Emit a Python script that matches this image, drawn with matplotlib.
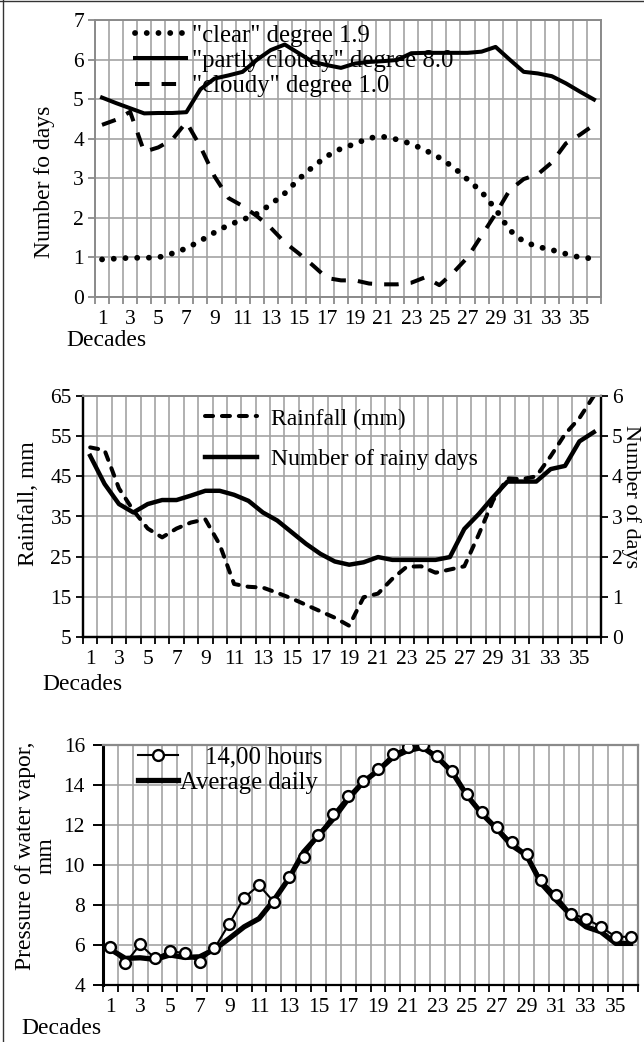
import matplotlib
matplotlib.use('Agg')
import matplotlib.pyplot as plt
import numpy as np
from matplotlib.lines import Line2D

plt.rcParams['font.family'] = ['Liberation Serif', 'DejaVu Serif']

decades = list(range(1, 37))
odd_decades = [d for d in decades if d % 2 == 1]
odd_labels = [str(d) for d in odd_decades]

# Panel 1: number of days by cloudiness
clear_days = [0.95, 0.97, 0.99, 0.99, 1.0, 1.1, 1.23, 1.42, 1.63, 1.82, 1.95, 2.1,
              2.34, 2.62, 2.98, 3.29, 3.56, 3.75, 3.87, 4.02, 4.05, 3.98, 3.87, 3.71,
              3.52, 3.28, 2.97, 2.66, 2.22, 1.69, 1.4, 1.27, 1.19, 1.09, 1.0, 0.97]
partly_cloudy_days = [5.04, 4.9, 4.77, 4.64, 4.65, 4.65, 4.67, 5.25, 5.52, 5.6, 5.69, 5.99,
                      6.24, 6.38, 6.16, 5.94, 5.86, 5.79, 5.9, 5.94, 5.96, 5.99, 6.16, 6.17,
                      6.17, 6.17, 6.17, 6.2, 6.32, 6.0, 5.69, 5.65, 5.58, 5.4, 5.19, 4.99]
cloudy_days = [4.35, 4.48, 4.68, 3.67, 3.78, 3.98, 4.42, 3.8, 3.05, 2.5, 2.3, 2.05,
               1.75, 1.38, 1.1, 0.8, 0.48, 0.42, 0.42, 0.34, 0.32, 0.32, 0.36, 0.5,
               0.3, 0.62, 1.0, 1.55, 2.1, 2.7, 2.98, 3.1, 3.4, 3.88, 4.1, 4.35]

# Panel 2: rainfall and rainy days
rainfall_mm = [52.2, 51.5, 42, 36.5, 32, 29.8, 32, 33.5, 34.3, 28, 18.2, 17.5,
               17.3, 16, 14.6, 13, 11.4, 9.8, 7.8, 14.9, 15.8, 19.5, 22.5, 22.6,
               21, 21.8, 22.6, 30.5, 39, 44.5, 44.3, 45, 50, 55.5, 59.5, 65]
rainy_days = [4.51, 3.81, 3.31, 3.10, 3.31, 3.41, 3.41, 3.52, 3.64, 3.64, 3.54, 3.39,
              3.10, 2.90, 2.61, 2.32, 2.07, 1.88, 1.80, 1.86, 1.99, 1.92, 1.92, 1.92,
              1.92, 1.99, 2.69, 3.06, 3.48, 3.87, 3.87, 3.87, 4.18, 4.26, 4.87, 5.1]

# Panel 3: water vapour pressure
vapor_14h = [5.91, 5.08, 6.03, 5.33, 5.71, 5.58, 5.16, 5.83, 7.07, 8.37, 8.99, 8.15,
             9.4, 10.4, 11.48, 12.56, 13.47, 14.22, 14.8, 15.55, 15.88, 16.0, 15.47, 14.72,
             13.56, 12.64, 11.89, 11.15, 10.56, 9.24, 8.49, 7.57, 7.32, 6.91, 6.41, 6.41]
vapor_daily = [5.78, 5.33, 5.36, 5.28, 5.5, 5.38, 5.41, 5.78, 6.33, 6.91, 7.32, 8.24,
               9.32, 10.65, 11.48, 12.31, 13.31, 14.14, 14.72, 15.38, 15.72, 15.88, 15.38, 14.64,
               13.47, 12.56, 11.81, 10.98, 10.48, 9.07, 8.24, 7.49, 6.91, 6.66, 6.08, 6.08]

W, H = 644, 1042
fig = plt.figure(figsize=(W / 100, H / 100), dpi=100)

GRID = '#a3a3a3'
GRAY = '#8a8a8a'
TICK_FS = 15.5
LAB_FS = 17


def box(x0, y0, x1, y1):
    return [x0 / W, 1 - y1 / H, (x1 - x0) / W, (y1 - y0) / H]


def setup_x(ax, tick_color):
    ax.set_xlim(0.5, 36.5)
    bounds = [d - 0.5 for d in decades] + [decades[-1] + 0.5]
    ax.set_xticks(bounds)
    ax.set_xticklabels([])
    ax.set_xticks(odd_decades, minor=True)
    ax.set_xticklabels(odd_labels, minor=True)
    ax.tick_params(axis='x', which='major', length=5, width=1.3, color=tick_color,
                   direction='out')
    ax.tick_params(axis='x', which='minor', length=0, pad=9, labelsize=TICK_FS)
    ax.grid(axis='x', which='major', color=GRID, lw=1.2)
    ax.grid(axis='y', which='major', color=GRID, lw=1.2)
    ax.set_axisbelow(True)


# ---------------- Panel 1 ----------------
ax1 = fig.add_axes(box(95, 20, 601, 297))
setup_x(ax1, GRAY)
ax1.set_ylim(0, 7)
ax1.set_yticks(range(0, 8))
ax1.tick_params(axis='y', length=5, width=1.3, color=GRAY, pad=3, labelsize=TICK_FS)
for s in ax1.spines.values():
    s.set_color(GRAY)
    s.set_linewidth(1.4)
l1, = ax1.plot(decades, clear_days, color='black', lw=4.2,
               linestyle=(0, (0.01, 2.0)), dash_capstyle='round',
               label='"clear" degree 1.9')
l2, = ax1.plot(decades, partly_cloudy_days, color='black', lw=2.9,
               solid_joinstyle='round', label='"partly cloudy" degree 8.0')
l3, = ax1.plot(decades, cloudy_days, color='black', lw=2.9,
               linestyle=(0, (3.6, 3.0)), label='"cloudy" degree 1.0')
ax1.legend(handles=[l1, l2, l3], loc='center left',
           bbox_to_anchor=(135 / W, 1 - 61 / H), bbox_transform=fig.transFigure,
           frameon=False, fontsize=17.8, borderpad=0, borderaxespad=0,
           handlelength=2.05, handletextpad=0.25, labelspacing=0.12)
fig.text(45 / W, 1 - 182 / H, 'Number fo days', rotation=90, ha='center',
         va='center', fontsize=LAB_FS)
fig.text(66 / W, 1 - 340 / H, 'Decades', ha='left', va='center', fontsize=LAB_FS)

# ---------------- Panel 2 ----------------
ax2 = fig.add_axes(box(83, 396, 601, 637))
setup_x(ax2, 'black')
ax2.set_ylim(5, 65)
ax2.set_yticks(range(5, 66, 10))
ax2.tick_params(axis='y', length=5, width=1.3, color='black', pad=3, labelsize=TICK_FS)
for side in ['left', 'bottom', 'right']:
    ax2.spines[side].set_color('black')
    ax2.spines[side].set_linewidth(1.6)
ax2.spines['top'].set_color(GRAY)
ax2.spines['top'].set_linewidth(1.4)
ax2r = ax2.twinx()
ax2r.set_ylim(0, 6)
ax2r.set_yticks(range(0, 7))
ax2r.tick_params(axis='y', length=5, width=1.3, color='black', pad=3, labelsize=TICK_FS)
for side in ['left', 'bottom', 'right']:
    ax2r.spines[side].set_color('black')
    ax2r.spines[side].set_linewidth(1.6)
ax2r.spines['top'].set_color(GRAY)
ax2r.spines['top'].set_linewidth(1.4)
m1, = ax2.plot(decades, rainfall_mm, color='black', lw=2.9,
               linestyle=(0, (2.0, 2.2)), dash_capstyle='round',
               label='Rainfall (mm)')
m2, = ax2r.plot(decades, rainy_days, color='black', lw=3.2,
                solid_joinstyle='round', label='Number of rainy days')
ax2r.legend(handles=[m1, m2], loc='center left',
            bbox_to_anchor=(205 / W, 1 - 439 / H), bbox_transform=fig.transFigure,
            frameon=False, fontsize=17, borderpad=0, borderaxespad=0,
            handlelength=2.2, handletextpad=0.6, labelspacing=0.8)
fig.text(28 / W, 1 - 504 / H, 'Rainfall, mm', rotation=90, ha='center',
         va='center', fontsize=LAB_FS)
fig.text(631 / W, 1 - 497 / H, 'Number of days', rotation=270, ha='center',
         va='center', fontsize=16)
fig.text(42 / W, 1 - 684 / H, 'Decades', ha='left', va='center', fontsize=LAB_FS)

# ---------------- Panel 3 ----------------
ax3 = fig.add_axes(box(103, 745, 638, 985))
setup_x(ax3, 'black')
ax3.set_ylim(4, 16)
ax3.set_yticks(range(4, 17, 2))
ax3.tick_params(axis='y', length=7, width=1.4, color='black', pad=6, labelsize=TICK_FS)
ax3.spines['left'].set_color('black')
ax3.spines['left'].set_linewidth(2.2)
ax3.spines['bottom'].set_color('black')
ax3.spines['bottom'].set_linewidth(1.6)
for side in ['top', 'right']:
    ax3.spines[side].set_color(GRAY)
    ax3.spines[side].set_linewidth(1.6)
n2, = ax3.plot(decades, vapor_daily, color='black', lw=3.8,
               solid_joinstyle='round', label='Average daily', zorder=3)
n1, = ax3.plot(decades, vapor_14h, color='black', lw=1.5, marker='o',
               markersize=7.8, markerfacecolor='white', markeredgecolor='black',
               markeredgewidth=1.7, label='    14,00 hours', zorder=4)
ax3.legend(handles=[n1, n2], loc='center left',
           bbox_to_anchor=(138 / W, 1 - 770 / H), bbox_transform=fig.transFigure,
           frameon=False, fontsize=17.8, borderpad=0, borderaxespad=0,
           handlelength=1.6, handletextpad=0.1, labelspacing=0.1, numpoints=1)
fig.text(36 / W, 1 - 856 / H, 'Pressure of water vapor,\nmm', rotation=90,
         ha='center', va='center', fontsize=LAB_FS, multialignment='center',
         linespacing=0.95)
fig.text(21 / W, 1 - 1028 / H, 'Decades', ha='left', va='center', fontsize=LAB_FS)

# Outer frame lines (left and top edges)
fig.add_artist(Line2D([2.5 / W, 2.5 / W], [0, 1], transform=fig.transFigure,
                      color='#333333', lw=1.0))
fig.add_artist(Line2D([0, 1], [1 - 1.0 / H, 1 - 1.0 / H], transform=fig.transFigure,
                      color='#333333', lw=1.0))

fig.savefig('out.png', dpi=100)
